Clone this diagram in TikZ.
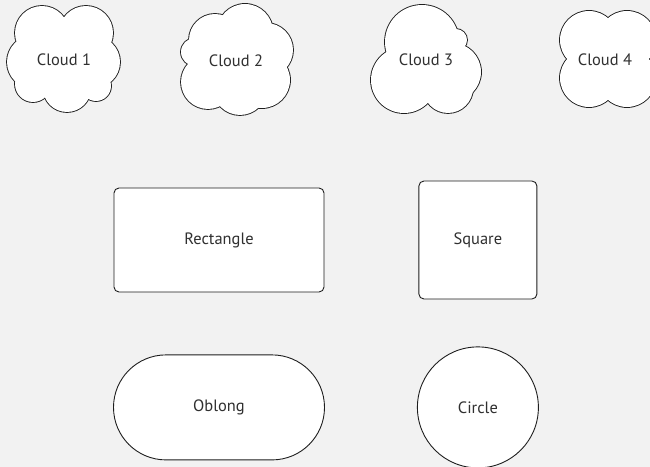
\documentclass[tikz,border=0pt]{standalone}
\usepackage{fontspec}
\setmainfont{PT Sans}
\usetikzlibrary{positioning}
\definecolor{bgc}{RGB}{242,242,242}
\definecolor{tc}{RGB}{48,48,48}
\definecolor{lc}{RGB}{30,30,30}
% a cloud is a union of puffs: outline pass, then white fill pass
\newcommand{\puffs}[1]{%
 \foreach \x/\y/\r in {#1} \draw[lc,line width=1.8pt] (\x,\y) circle[radius=\r];
 \foreach \x/\y/\r in {#1} \fill[white] (\x,\y) circle[radius=\r];}
\tikzset{txt/.style={text=tc,font=\fontsize{16.5}{19}\selectfont},
 sh/.style={txt,draw=lc,fill=white,line width=.9pt},
 r/.style={sh,rounded corners=5bp,minimum width=210bp,minimum height=104bp},
 sq/.style={r,minimum width=118bp,minimum height=118bp},
 ob/.style={sh,rounded corners=52.5bp,minimum width=211bp,minimum height=105bp},
 ci/.style={sh,circle,minimum size=121bp}}
\begin{document}
\begin{tikzpicture}[x=1bp,y=-1bp]
\path[use as bounding box,fill=bgc] (0,0) rectangle (650,467);
% clouds along the top
\puffs{42/33/27,86/33/27,94/62/26,96/86/15,67/88/24,33/84/18,34/62/27,64/60/30}
\node[txt] (c1) at (64,60) {Cloud 1};
\puffs{245/32/28,215/40/26,266/50/27,262/80/28,240/88/27,208/82/27,195/52/14,236/60/30}
\node[txt] (c2) at (236,61) {Cloud 2};
\puffs{422/42/37,456/40/11,452/72/29,448/88/25,404/80/33,426/60/30}
\node[txt] (c3) at (426,60) {Cloud 3};
\puffs{589/40/29,627/40/29,589/78/29,627/78/29}
\node[txt] (c4) at (605,60) {Cloud 4};
% boxes
\node[r] (rect) at (219,240) {Rectangle};
\node[sq,right=94bp of rect] (sqr) {Square};
\node[ob,below=62bp of rect] (obl) {Oblong};
\node[ci,below=47bp of sqr] (circ) {Circle};
\end{tikzpicture}
\end{document}
